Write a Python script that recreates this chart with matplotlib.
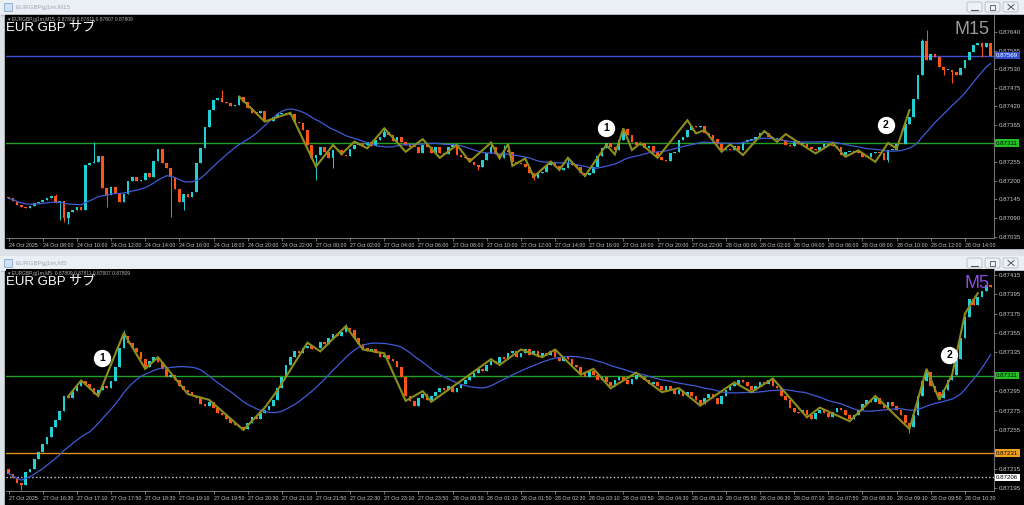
import numpy as np
import pandas as pd
import matplotlib
matplotlib.use('Agg')
import matplotlib.pyplot as plt
from matplotlib.patches import Rectangle, FancyBboxPatch

plt.rcParams['font.family'] = ['Liberation Sans', 'Noto Sans CJK JP', 'DejaVu Sans']

W, H = 1024, 505

# ---- M15 window data (prices in 1e-5 units, open = previous close) ----
open15_first = 87153
close15 = [
    87148, 87141, 87128, 87123, 87120, 87125, 87133, 87138, 87143, 87148,
    87156, 87133, 87141, 87089, 87109, 87114, 87123, 87114, 87247, 87252,
    87257, 87273, 87178, 87158, 87183, 87163, 87138, 87161, 87200, 87212,
    87200, 87202, 87224, 87212, 87260, 87293, 87252, 87237, 87212, 87175,
    87138, 87161, 87153, 87168, 87254, 87296, 87360, 87409, 87439, 87444,
    87434, 87429, 87421, 87424, 87449, 87434, 87414, 87401, 87399, 87406,
    87380, 87378, 87390, 87398, 87401, 87395, 87398, 87375, 87370, 87350,
    87306, 87266, 87276, 87301, 87286, 87266, 87291, 87291, 87276, 87273,
    87293, 87306, 87313, 87306, 87316, 87303, 87321, 87329, 87345, 87335,
    87319, 87330, 87316, 87306, 87301, 87299, 87283, 87306, 87299, 87283,
    87301, 87283, 87279, 87299, 87306, 87276, 87269, 87266, 87257, 87247,
    87242, 87261, 87281, 87301, 87279, 87266, 87291, 87286, 87257, 87252,
    87250, 87242, 87222, 87207, 87222, 87227, 87247, 87257, 87244, 87232,
    87237, 87254, 87247, 87242, 87222, 87217, 87222, 87242, 87273, 87296,
    87311, 87299, 87291, 87321, 87352, 87335, 87316, 87306, 87311, 87296,
    87303, 87286, 87271, 87261, 87259, 87281, 87286, 87320, 87330, 87350,
    87361, 87359, 87361, 87340, 87335, 87325, 87310, 87290, 87295, 87290,
    87302, 87290, 87315, 87322, 87325, 87330, 87340, 87342, 87330, 87325,
    87325, 87320, 87305, 87302, 87318, 87310, 87310, 87300, 87295, 87290,
    87300, 87308, 87305, 87302, 87300, 87276, 87286, 87286, 87289, 87281,
    87271, 87269, 87281, 87286, 87283, 87261, 87290, 87292, 87310, 87308,
    87369, 87389, 87443, 87512, 87614, 87557, 87576, 87567, 87537, 87527,
    87527, 87522, 87512, 87532, 87557, 87581, 87601, 87608, 87596, 87606,
    87569,
]
wick_hi15 = {11: 87161, 20: 87316, 50: 87469, 88: 87355, 113: 87311, 116: 87306,
             131: 87266, 144: 87357, 215: 87645, 214: 87620}
wick_lo15 = {12: 87084, 13: 87079, 14: 87072, 23: 87123, 38: 87094, 41: 87114,
             72: 87202, 76: 87237, 110: 87232, 123: 87202, 206: 87256, 219: 87512,
             221: 87488, 228: 87567}
zz15_idx = [54, 60, 66, 72, 76, 78, 81, 84, 88, 93, 97, 101, 105, 108, 113, 115, 117,
            118, 121, 123, 127, 129, 131, 135, 140, 142, 144, 146, 148, 152, 159, 161,
            163, 167, 169, 172, 177, 180, 182, 189, 193, 196, 199, 203, 206, 208, 211]
zz15_val = [87449, 87375, 87401, 87242, 87306, 87279, 87316, 87296, 87355, 87286, 87323,
            87268, 87306, 87257, 87313, 87266, 87309, 87244, 87266, 87212, 87257, 87232,
            87268, 87214, 87306, 87278, 87355, 87291, 87311, 87268, 87379, 87340, 87350,
            87286, 87308, 87276, 87347, 87315, 87338, 87281, 87312, 87271, 87290, 87256,
            87312, 87295, 87409]
hlines15 = [(0.87570, '#4150d0', '-', '0.87569', '#3050d0', 'white'),
            (0.87311, '#22a022', '-', '0.87311', '#22c422', 'black')]
yticks15 = [0.87035, 0.87090, 0.87145, 0.87200, 0.87255, 0.87365,
            0.87420, 0.87475, 0.87530, 0.87585, 0.87640]
xlabels15 = ['24 Oct 2025', '24 Oct 08:00', '24 Oct 10:00', '24 Oct 12:00', '24 Oct 14:00',
             '24 Oct 16:00', '24 Oct 18:00', '24 Oct 20:00', '24 Oct 22:00', '27 Oct 00:00',
             '27 Oct 02:00', '27 Oct 04:00', '27 Oct 06:00', '27 Oct 08:00', '27 Oct 10:00',
             '27 Oct 12:00', '27 Oct 14:00', '27 Oct 16:00', '27 Oct 18:00', '27 Oct 20:00',
             '27 Oct 22:00', '28 Oct 00:00', '28 Oct 02:00', '28 Oct 04:00', '28 Oct 06:00',
             '28 Oct 08:00', '28 Oct 10:00', '28 Oct 12:00', '28 Oct 14:00']
marks15 = [(140, 0.87356, '1'), (205.5, 0.87365, '2')]
ylim15 = (0.87031, 0.87690)

# ---- M5 window data ----
open5_first = 87215
close5 = [
    87210, 87205, 87200, 87198, 87212, 87215, 87225, 87232, 87240, 87248,
    87258, 87265, 87275, 87290, 87288, 87295, 87300, 87305, 87302, 87298,
    87292, 87296, 87300, 87298, 87305, 87320, 87340, 87352, 87345, 87340,
    87335, 87328, 87320, 87326, 87330, 87325, 87318, 87310, 87312, 87306,
    87300, 87296, 87294, 87290, 87288, 87282, 87280, 87284, 87278, 87272,
    87270, 87266, 87262, 87260, 87258, 87256, 87262, 87268, 87266, 87272,
    87276, 87280, 87286, 87298, 87310, 87322, 87330, 87336, 87334, 87340,
    87342, 87338, 87340, 87346, 87344, 87350, 87354, 87352, 87356, 87360,
    87358, 87350, 87344, 87340, 87336, 87338, 87334, 87330, 87332, 87328,
    87326, 87320, 87310, 87290, 87285, 87280, 87288, 87292, 87286, 87290,
    87294, 87298, 87296, 87300, 87294, 87298, 87302, 87306, 87310, 87314,
    87318, 87316, 87322, 87326, 87324, 87330, 87328, 87334, 87336, 87330,
    87334, 87338, 87332, 87336, 87330, 87334, 87332, 87336, 87330, 87326,
    87330, 87328, 87322, 87320, 87314, 87310, 87316, 87312, 87306, 87310,
    87304, 87300, 87306, 87310, 87306, 87302, 87308, 87312, 87310, 87306,
    87302, 87304, 87300, 87296, 87300, 87296, 87292, 87296, 87290, 87294,
    87290, 87286, 87282, 87288, 87292, 87288, 87282, 87290, 87296, 87300,
    87302, 87306, 87304, 87300, 87296, 87300, 87304, 87302, 87306, 87300,
    87298, 87290, 87286, 87278, 87274, 87272, 87276, 87270, 87266, 87272,
    87276, 87272, 87268, 87274, 87278, 87276, 87270, 87266, 87270, 87276,
    87282, 87286, 87284, 87288, 87282, 87278, 87284, 87280, 87276, 87270,
    87262, 87258, 87270, 87290, 87305, 87315, 87300, 87294, 87288, 87296,
    87306, 87312, 87328, 87350, 87372, 87390, 87384, 87392, 87398, 87404,
    87402,
]
wick_hi5 = {27: 87358, 79: 87364}
wick_lo5 = {3: 87193, 211: 87252}
zz5_idx = [14, 17, 21, 27, 32, 35, 42, 47, 55, 60, 63, 70, 73, 79, 83, 88, 93, 97, 99,
           108, 113, 115, 120, 125, 128, 134, 137, 141, 147, 153, 157, 162, 170, 174,
           179, 187, 190, 197, 203, 211, 215, 218, 221, 224, 227]
zz5_val = [87290, 87306, 87290, 87355, 87318, 87330, 87292, 87286, 87255, 87278, 87296,
           87345, 87336, 87362, 87338, 87334, 87285, 87295, 87284, 87312, 87328, 87322,
           87338, 87330, 87338, 87312, 87318, 87298, 87314, 87294, 87298, 87280, 87304,
           87294, 87308, 87268, 87278, 87264, 87290, 87256, 87318, 87286, 87312, 87375,
           87396]
hlines5 = [(0.87311, '#22a022', '-', '0.87311', '#22c422', 'black'),
           (0.87231, '#e0901a', '-', '0.87231', '#f0a020', 'black'),
           (0.87206, '#d0d0d0', ':', '0.87206', '#ffffff', 'black')]
yticks5 = [0.87195, 0.87215, 0.87255, 0.87275, 0.87295,
           0.87335, 0.87355, 0.87375, 0.87395, 0.87415]
xlabels5 = ['27 Oct 2025', '27 Oct 16:30', '27 Oct 17:10', '27 Oct 17:50', '27 Oct 18:30',
            '27 Oct 19:10', '27 Oct 19:50', '27 Oct 20:30', '27 Oct 21:10', '27 Oct 21:50',
            '27 Oct 22:30', '27 Oct 23:10', '27 Oct 23:50', '28 Oct 00:30', '28 Oct 01:10',
            '28 Oct 01:50', '28 Oct 02:30', '28 Oct 03:10', '28 Oct 03:50', '28 Oct 04:30',
            '28 Oct 05:10', '28 Oct 05:50', '28 Oct 06:30', '28 Oct 07:10', '28 Oct 07:50',
            '28 Oct 08:30', '28 Oct 09:10', '28 Oct 09:50', '28 Oct 10:30']
marks5 = [(22, 0.87329, '1'), (220.3, 0.87332, '2')]
ylim5 = (0.87192, 0.87421)

UP = '#22cfd2'
DOWN = '#ff5419'
TXT = '#c8c8c8'


def px_rect(x0, y0, x1, y1):
    return [x0 / W, 1 - y1 / H, (x1 - x0) / W, (y1 - y0) / H]


def draw_chart(rect, closes, first_open, whi, wlo, zz_i, zz_v, hlines, yticks,
               xlabels, marks, ylim):
    ax = fig.add_axes(px_rect(*rect), zorder=2)
    ax.set_facecolor('black')
    c = np.array(closes) / 1e5
    o = np.r_[first_open / 1e5, c[:-1]]
    x = np.arange(len(c))
    cols = np.where(c >= o, UP, DOWN)
    px_per_price = (rect[3] - rect[1]) / (ylim[1] - ylim[0])
    body_lo = np.minimum(o, c)
    body_h = np.maximum(np.abs(c - o), 1.0 / px_per_price)
    hi = np.maximum(o, c)
    lo = np.minimum(o, c)
    for k, v in whi.items():
        hi[k] = max(hi[k], v / 1e5)
    for k, v in wlo.items():
        lo[k] = min(lo[k], v / 1e5)
    for y, col, ls, lab, fc, fg in hlines:
        ax.axhline(y, color=col, lw=1.0, ls=ls, zorder=1)
    ax.vlines(x, lo, hi, colors=cols, lw=0.7, zorder=3)
    ax.bar(x, body_h, bottom=body_lo, width=0.62, color=cols, linewidth=0, zorder=3)
    ma = pd.Series(c).rolling(20, min_periods=1).mean()
    ax.plot(x, ma, color='#3f5bd6', lw=0.9, zorder=4)
    ax.plot(zz_i, np.array(zz_v) / 1e5, color='#8e8e1c', lw=1.5, zorder=5,
            solid_joinstyle='miter')
    for mx, my, t in marks:
        ax.plot(mx, my, 'o', ms=11.5, mfc='white', mec='white', zorder=8)
        ax.text(mx, my, t, ha='center', va='center', fontsize=7.5, fontweight='bold',
                color='black', zorder=9)
    ax.set_xlim(-0.6, len(c) - 0.2)
    ax.set_ylim(*ylim)
    ax.yaxis.tick_right()
    ax.set_yticks(yticks)
    ax.set_yticklabels(['%.5f' % v for v in yticks])
    ax.set_xticks(np.arange(0, 8 * len(xlabels), 8))
    ax.set_xticklabels(xlabels, ha='left')
    ax.tick_params(axis='y', colors='#9a9a9a', labelcolor=TXT, labelsize=4.4,
                   length=2, width=0.5, pad=1.5)
    ax.tick_params(axis='x', colors='#9a9a9a', labelcolor=TXT, labelsize=3.8,
                   length=2.5, width=0.5, pad=1)
    for s in ('left', 'top'):
        ax.spines[s].set_visible(False)
    for s in ('right', 'bottom'):
        ax.spines[s].set_color('#8a8a8a')
        ax.spines[s].set_linewidth(0.6)
    for y, col, ls, lab, fc, fg in hlines:
        ax.annotate(lab, xy=(1, y), xycoords=('axes fraction', 'data'), xytext=(1.6, 0),
                    textcoords='offset points', ha='left', va='center', fontsize=4.4,
                    color=fg, zorder=10, annotation_clip=False,
                    bbox=dict(boxstyle='square,pad=0.22', fc=fc, ec=fc, lw=0))
    return ax


fig = plt.figure(figsize=(W / 100, H / 100), dpi=100, facecolor='#dde2e8')

bg = fig.add_axes([0, 0, 1, 1], zorder=0)
bg.set_xlim(0, W)
bg.set_ylim(H, 0)
bg.axis('off')

for wy, name, black_h in ((0, 'EURGBPgj1m,M15', 233), (256, 'EURGBPgj1m,M5', 249)):
    bg.add_patch(Rectangle((0, wy), W, 15, color='#eaeff5'))
    bg.add_patch(Rectangle((0, wy + 14.5), W, 0.8, color='#b9c2cc'))
    bg.add_patch(Rectangle((4, wy + 3), 8, 8, fc='#cfe0f2', ec='#7d9cc0', lw=0.5))
    bg.text(16, wy + 7.5, name, fontsize=4.6, color='#a3a9b1', va='center')
    for bx in (967, 985, 1003):
        bg.add_patch(FancyBboxPatch((bx, wy + 2), 15, 10,
                                    boxstyle='round,pad=0,rounding_size=2',
                                    fc='#eef2f6', ec='#a4aebb', lw=0.5))
    bg.plot([971, 978], [wy + 9.5, wy + 9.5], color='#555', lw=0.8)
    bg.add_patch(Rectangle((990, wy + 4.5), 5, 5, fill=False, ec='#555', lw=0.6))
    bg.plot([1008, 1014], [wy + 4.5, wy + 9.5], color='#555', lw=0.7)
    bg.plot([1008, 1014], [wy + 9.5, wy + 4.5], color='#555', lw=0.7)
    bg.add_patch(Rectangle((5, wy + 15), 1018, black_h, color='black'))

draw_chart((6, 15, 994, 238), close15, open15_first, wick_hi15, wick_lo15, zz15_idx,
           zz15_val, hlines15, yticks15, xlabels15, marks15, ylim15)
draw_chart((6, 269, 994, 491), close5, open5_first, wick_hi5, wick_lo5, zz5_idx,
           zz5_val, hlines5, yticks5, xlabels5, marks5, ylim5)

ov = fig.add_axes([0, 0, 1, 1], zorder=5)
ov.set_xlim(0, W)
ov.set_ylim(H, 0)
ov.axis('off')
ov.patch.set_alpha(0)
for wy, tf, tag, tag_col in ((15, 'M15', 'M15', '#9b9b9b'), (269, 'M5', 'M5', '#8a4ee0')):
    ov.text(8, wy + 4.5, '\u25be EURGBP,gj1m,%s  0.87809 0.87811 0.87807 0.87809' % tf,
            fontsize=3.5, color='#b4b4b4', va='center')
    ov.text(5.5, wy + 13, 'EUR GBP サブ', fontsize=9.5, color='white', va='center')
    ov.text(990, wy + 15, tag, fontsize=13, color=tag_col, ha='right', va='center')

fig.savefig('out.png', dpi=100, facecolor=fig.get_facecolor())
